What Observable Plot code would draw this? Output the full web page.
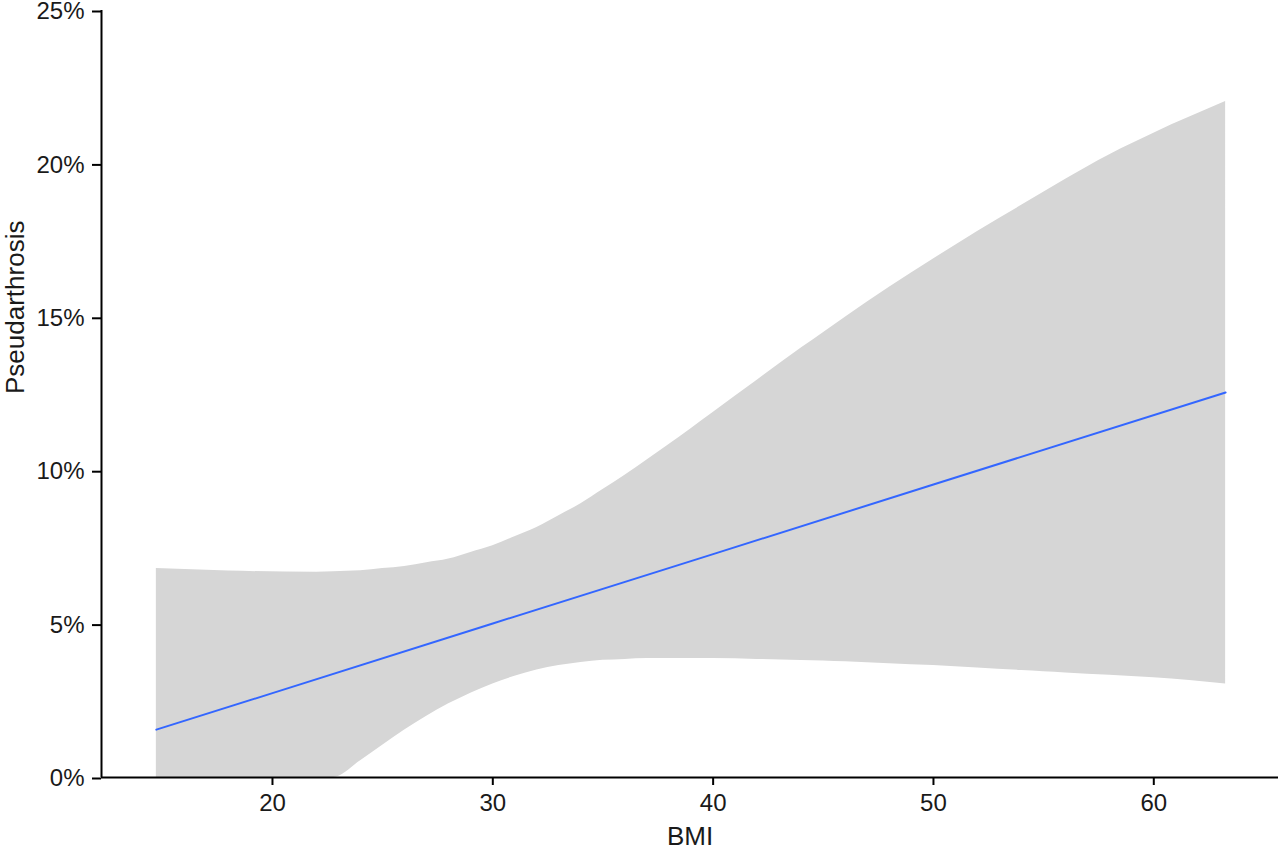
<!DOCTYPE html>
<html>
<head>
<meta charset="utf-8">
<script src="https://cdn.jsdelivr.net/npm/d3@7"></script>
<script src="https://cdn.jsdelivr.net/npm/@observablehq/plot@0.6"></script>
<style>
  html, body { margin: 0; padding: 0; background: #fff; }
  #chart { width: 1280px; height: 850px; }
</style>
</head>
<body>
<div id="chart"></div>
<script>
// Confidence band: upper bound (BMI, %)
const upperBmi = [14.73, 18, 22, 24, 26, 28, 30, 32, 34, 36, 38, 40, 42, 44, 46, 48, 50, 52, 54, 56, 58, 60, 63.26];
const upperPct = [6.81, 6.73, 6.69, 6.74, 6.88, 7.12, 7.55, 8.15, 8.92, 9.85, 10.85, 11.90, 12.95, 14.00, 15.00, 15.98, 16.90, 17.80, 18.65, 19.50, 20.30, 21.00, 22.03];
// Confidence band: lower bound (BMI, %), clipped at 0
const lowerBmi = [14.73, 22.77, 24, 25, 26, 27, 28, 29, 30, 31, 32, 33, 34, 35, 37, 40, 45, 50, 55, 60, 63.26];
const lowerPct = [0, 0, 0.55, 1.05, 1.55, 2.0, 2.4, 2.75, 3.05, 3.3, 3.5, 3.65, 3.75, 3.82, 3.88, 3.88, 3.80, 3.65, 3.45, 3.25, 3.05];

// Fitted line (BMI, %)
const fitBmi = [14.73, 20, 30, 40, 50, 63.26];
const fitPct = [1.56, 2.75, 5.02, 7.28, 9.55, 12.55];

const xTicks = [20, 30, 40, 50, 60];
const yTicks = [0, 5, 10, 15, 20, 25];

// merge band on a common BMI grid (union of read positions, linear between reads)
const grid = Array.from(new Set([...upperBmi, ...lowerBmi])).sort((a, b) => a - b);
const interp = (xs, ys, x) => {
  for (let i = 0; i < xs.length - 1; i++) {
    if (x >= xs[i] && x <= xs[i + 1]) {
      const t = (x - xs[i]) / (xs[i + 1] - xs[i]);
      return ys[i] + t * (ys[i + 1] - ys[i]);
    }
  }
  return ys[ys.length - 1];
};
const band = grid.map(b => ({bmi: b, hi: interp(upperBmi, upperPct, b), lo: interp(lowerBmi, lowerPct, b)}));
const fit = fitBmi.map((b, i) => ({bmi: b, p: fitPct[i]}));

const xMin = 12.24, xMax = 65.66;
const font = "'Liberation Sans', Arial, sans-serif";

const chart = Plot.plot({
  width: 1280,
  height: 850,
  marginLeft: 101,
  marginRight: 2,
  marginTop: 10,
  marginBottom: 73,
  style: {fontFamily: font, fontSize: "24px", color: "#1a1a1a", background: "#fff", overflow: "visible"},
  x: {domain: [xMin, xMax]},
  y: {domain: [0, 25]},
  marks: [
    Plot.areaY(band, {x: "bmi", y1: "lo", y2: "hi", fill: "#d6d6d6", curve: "monotone-x"}),
    Plot.lineY(fit, {x: "bmi", y: "p", stroke: "#3366ff", strokeWidth: 2}),
    Plot.ruleX([xMin], {stroke: "#000", strokeWidth: 2}),
    Plot.ruleY([0], {stroke: "#000", strokeWidth: 2}),
    Plot.axisX({ticks: xTicks, tickSize: 8, tickPadding: 8, tickFormat: d => String(d), label: null, stroke: "#000", strokeWidth: 2, fontSize: 24}),
    Plot.axisY({ticks: yTicks, tickSize: 9, tickPadding: 8, tickFormat: d => d + "%", label: null, stroke: "#000", strokeWidth: 2, fontSize: 24, dy: 1}),
    Plot.text(["BMI"], {frameAnchor: "bottom", dy: 59, text: d => d, fontSize: 26, fill: "#1a1a1a", lineAnchor: "middle"}),
    Plot.text(["Pseudarthrosis"], {frameAnchor: "left", dx: -86, rotate: -90, text: d => d, fontSize: 26, fill: "#1a1a1a", lineAnchor: "middle"})
  ]
});
document.getElementById("chart").appendChild(chart);
</script>
</body>
</html>
